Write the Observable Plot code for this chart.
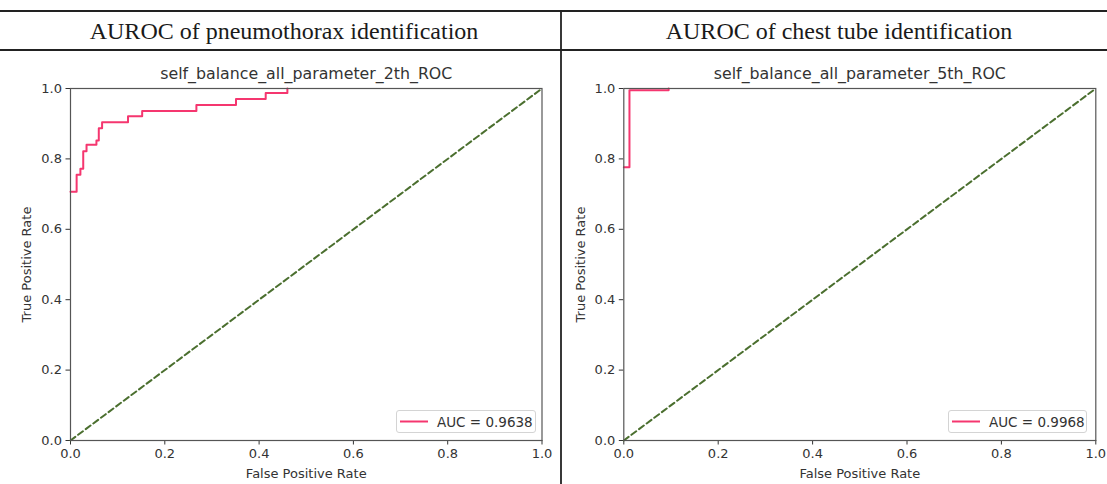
<!DOCTYPE html>
<html>
<head>
<meta charset="utf-8">
<script src="https://cdn.jsdelivr.net/npm/d3@7"></script>
<script src="https://cdn.jsdelivr.net/npm/@observablehq/plot@0.6"></script>
<style>
  html, body { margin: 0; padding: 0; background: #fff; }
  body { width: 1107px; height: 484px; position: relative; overflow: hidden; }
  .panel { position: absolute; top: 50px; }
  .legend { position: absolute; top: 410px; height: 23px; box-sizing: border-box; border: 1px solid #d4d4d4; border-radius: 3px; background: #fff;
            font: 13.5px "DejaVu Sans", sans-serif; color: #333; white-space: nowrap; }
  .legend svg { position: absolute; top: 0; left: 0; }
  .legend span { position: absolute; top: 2.5px; }
  #deco { position: absolute; left: 0; top: 0; pointer-events: none; }
</style>
</head>
<body>
<div id="left" class="panel" style="left:0px"></div>
<div id="right" class="panel" style="left:554px"></div>
<svg id="deco" width="1107" height="484"></svg>
<script>
// ---- data ----
const headers = ["AUROC of pneumothorax identification", "AUROC of chest tube identification"];
const titles = ["self_balance_all_parameter_2th_ROC", "self_balance_all_parameter_5th_ROC"];
const aucLabels = ["AUC = 0.9638", "AUC = 0.9968"];
const xLabel = "False Positive Rate";
const yLabel = "True Positive Rate";
const ticks = [0, 0.2, 0.4, 0.6, 0.8, 1.0];
const diagonal = [0, 1];
// ROC corner points (step-before: vertical then horizontal to next point)
const fprPneumo = [0, 0.013, 0.021, 0.027, 0.034, 0.055, 0.060, 0.067, 0.122, 0.152, 0.267, 0.351, 0.414, 0.460, 0.460];
const tprPneumo = [0.707, 0.707, 0.755, 0.772, 0.822, 0.840, 0.852, 0.887, 0.904, 0.921, 0.936, 0.953, 0.970, 0.987, 1.0];
const fprTube = [0, 0.012, 0.095, 0.095];
const tprTube = [0.776, 0.776, 0.995, 1.0];

const pink = "#f5366f";
const green = "#4b6f2f";

const panels = [
  {id: "left", marginLeft: 70, marginRight: 11.5, fpr: fprPneumo, tpr: tprPneumo,
   header: headers[0], title: titles[0], auc: aucLabels[0], headerX: 284, legendLeft: 396, legendWidth: 140},
  {id: "right", marginLeft: 69.3, marginRight: 11.7, fpr: fprTube, tpr: tprTube,
   header: headers[1], title: titles[1], auc: aucLabels[1], headerX: 839, legendLeft: 948, legendWidth: 139}
];

for (const p of panels) {
  const roc = p.fpr.map((f, i) => ({fpr: f, tpr: p.tpr[i]}));
  const chart = Plot.plot({
    width: 553,
    height: 434,
    marginTop: 38,
    marginBottom: 44,
    marginLeft: p.marginLeft,
    marginRight: p.marginRight,
    style: {background: "transparent", fontFamily: "'DejaVu Sans', sans-serif", fontSize: "13px", color: "#333"},
    x: {domain: [0, 1], ticks: ticks, tickFormat: d3.format(".1f"), tickSize: 4.5, tickPadding: 4, label: null},
    y: {domain: [0, 1], ticks: ticks, tickFormat: d3.format(".1f"), tickSize: 4.5, tickPadding: 4, label: null},
    marks: [
      Plot.line(diagonal, {x: d => d, y: d => d, stroke: green, strokeWidth: 2, strokeDasharray: "6,3.5"}),
      Plot.line(roc, {x: "fpr", y: "tpr", curve: "step-before", stroke: pink, strokeWidth: 2}),
      Plot.frame({stroke: "#555", strokeWidth: 1.2}),
      Plot.text([p.title], {text: d => d, frameAnchor: "top", lineAnchor: "middle", dy: -15, fontSize: 15.8, fill: "#333"}),
      Plot.text([xLabel], {text: d => d, frameAnchor: "bottom", lineAnchor: "middle", dy: 33.5, fontSize: 13, fill: "#333"}),
      Plot.text([yLabel], {text: d => d, frameAnchor: "left", textAnchor: "middle", lineAnchor: "middle", dx: -43.3, rotate: -90, fontSize: 13, fill: "#333"})
    ]
  });
  document.getElementById(p.id).appendChild(chart);

  const lg = document.createElement("div");
  lg.className = "legend";
  lg.style.left = p.legendLeft + "px";
  lg.style.width = p.legendWidth + "px";
  lg.innerHTML = `<svg width="40" height="21"><line x1="3" x2="31" y1="10.5" y2="10.5" stroke="${pink}" stroke-width="2"/></svg><span style="left:40px">${p.auc}</span>`;
  document.body.appendChild(lg);
}

// table rules and headers
const deco = d3.select("#deco");
deco.append("line").attr("x1", 0).attr("x2", 1107).attr("y1", 11).attr("y2", 11).attr("stroke", "#222").attr("stroke-width", 2);
deco.append("line").attr("x1", 0).attr("x2", 1107).attr("y1", 50).attr("y2", 50).attr("stroke", "#222").attr("stroke-width", 2);
deco.append("line").attr("x1", 561).attr("x2", 561).attr("y1", 10).attr("y2", 484).attr("stroke", "#222").attr("stroke-width", 1.8);
for (const p of panels) {
  deco.append("text").attr("x", p.headerX).attr("y", 39).attr("text-anchor", "middle")
    .attr("font-family", "'Liberation Serif', serif").attr("font-size", 24).attr("fill", "#1a1a1a").text(p.header);
}
</script>
</body>
</html>
